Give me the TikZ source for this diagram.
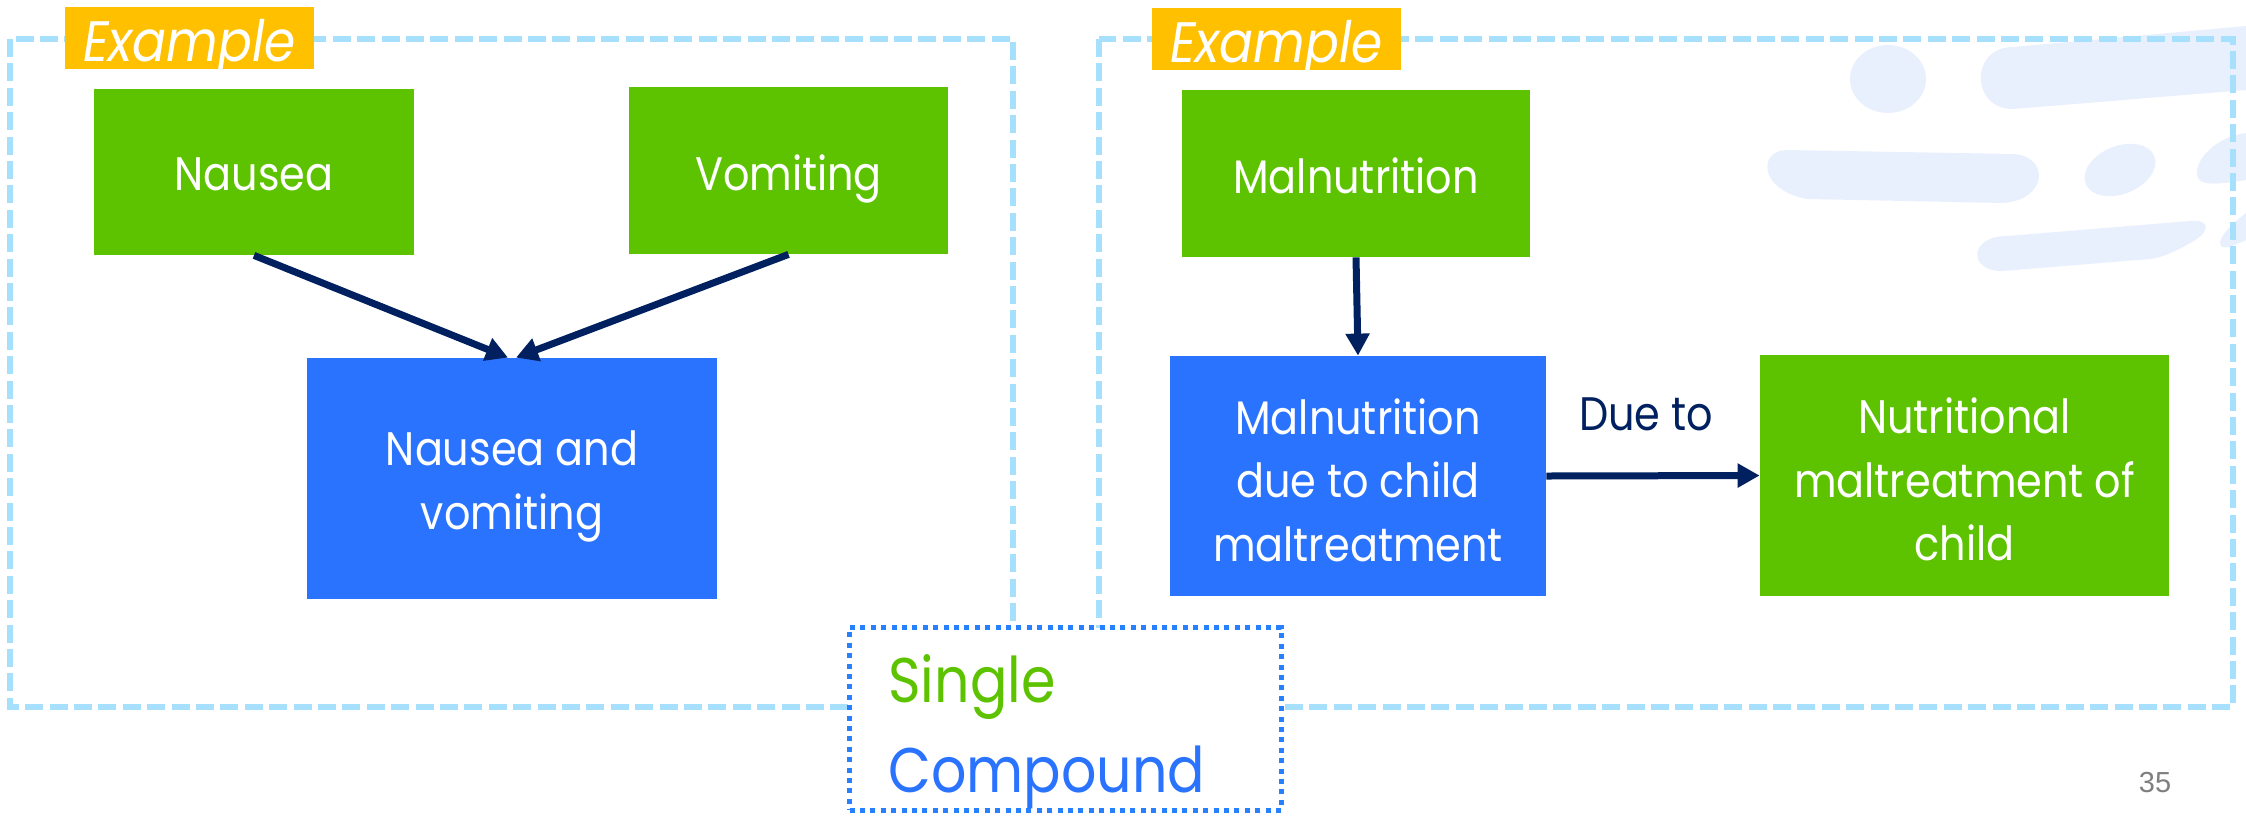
\documentclass[tikz,border=0pt]{standalone}
\usepackage{fontspec}
\setmainfont{Poppins}[FakeStretch=0.88]
\newfontfamily\numfont{Liberation Sans}
\usetikzlibrary{arrows.meta}

\definecolor{boxgreen}{HTML}{5DC300}
\definecolor{boxblue}{HTML}{2A73FF}
\definecolor{navy}{HTML}{002060}
\definecolor{frameblue}{HTML}{A6E0FD}
\definecolor{gold}{HTML}{FFC000}
\definecolor{dotblue}{HTML}{2680FF}
\definecolor{haze}{HTML}{E8EFFD}
\definecolor{pagegray}{HTML}{7F7F7F}

\tikzset{
  conceptbox/.style={rectangle, inner sep=0pt, text=white, align=center,
    text depth=0pt, font=\fontsize{23.5}{31.75}\selectfont},
  gbox/.style={conceptbox, fill=boxgreen},
  bbox/.style={conceptbox, fill=boxblue},
  link/.style={navy, line width=3.5pt, -{Triangle[width=11.5pt,length=11pt]}},
  frame/.style={frameblue, line width=3.3pt, dash pattern=on 9pt off 3.2pt},
  tag/.style={fill=gold, inner sep=0pt, text=white, minimum width=124.5pt,
    text height=27pt, text depth=4pt, font=\itshape\fontsize{28.5}{34}\selectfont},
  kindbox/.style={draw=dotblue, fill=white, line width=2.5pt,
    dash pattern=on 2.5pt off 2.7pt, inner sep=0pt},
  kindtext/.style={anchor=base west, inner sep=0pt, font=\fontsize{31.5}{38}\selectfont},
}

\begin{document}
\begin{tikzpicture}[x=0.5pt, y=-0.5pt]
\useasboundingbox (0,0) rectangle (2246,815);

% soft background strokes, top right
\begin{scope}[haze]
  \fill (1888,79) ellipse [x radius=38, y radius=34];
  \fill (2013,47) -- (2246,26) -- (2246,90) -- (2013,109)
        .. controls (1970,109) and (1970,47) .. (2013,47) -- cycle;
  \fill (1787,150) .. controls (1758,150) and (1758,190) .. (1807,199)
        -- (2003,203) .. controls (2048,200) and (2050,156) .. (2013,154) -- cycle;
  \fill[shift={(2120,170)}, rotate=22] (0,0) ellipse [x radius=37, y radius=24];
  \fill (2246,133) .. controls (2215,137) and (2195,160) .. (2197,175)
        .. controls (2199,186) and (2215,185) .. (2246,180) -- cycle;
  \fill (2007,236) -- (2190,221) .. controls (2212,219) and (2210,233) .. (2190,243)
        .. controls (2175,252) and (2160,258) .. (2150,259) -- (2003,271)
        .. controls (1968,272) and (1968,236) .. (2007,236) -- cycle;
  \fill (2246,213) .. controls (2230,225) and (2216,240) .. (2221,246)
        .. controls (2225,250) and (2235,245) .. (2246,240) -- cycle;
\end{scope}

% dashed frames of the two examples
\draw[frame] (10,39) rectangle (1013,707);
\draw[frame] (1099,39) rectangle (2233,707);

% example tags
\node[tag] (exL) at (189.5,38) {Example};
\node[tag] (exR) at (1276.5,39) {Example};

% left example
\node[gbox, minimum width=160pt, minimum height=83pt, text height=18pt] (nausea) at (254,172) {Nausea};
\node[gbox, minimum width=159.5pt, minimum height=83.5pt, text height=19.5pt] (vomit) at (788.5,170.5) {Vomiting};
\node[bbox, minimum width=205pt, minimum height=120.5pt, text height=50.5pt] (nv) at (512,478.5) {Nausea and\\vomiting};
\draw[link] (nausea.south) -- ([xshift=-2pt]nv.north);
\draw[link] (vomit.south) -- ([xshift=2pt]nv.north);

% right example
\node[gbox, minimum width=174pt, minimum height=83.5pt, text height=19.5pt] (maln) at (1356,173.5) {Malnutrition};
\node[bbox, minimum width=188pt, minimum height=120pt, text height=85.3pt] (mdue) at (1358,476) {Malnutrition\\due to child\\maltreatment};
\node[gbox, minimum width=204.5pt, minimum height=120.5pt, text height=85.3pt] (nmc) at (1964.5,475.5) {Nutritional\\maltreatment of\\child};
\draw[link] (maln.south) -- (mdue.north);
\draw[link] (mdue.east) -- (nmc.west);
\node[inner sep=0pt, text=navy, font=\fontsize{23.5}{28}\selectfont] (dueto) at (1646,414) {Due to};

% legend of the two kinds
\node[kindbox, minimum width=215.75pt, minimum height=91.25pt] (kinds) at (1065.25,718.75) {};
\node[kindtext, text=boxgreen] (single) at (888,702) {Single};
\node[kindtext, text=boxblue] (compound) at (888,792) {Compound};

% page number
\node[anchor=base, inner sep=0pt, text=pagegray, font=\numfont\fontsize{14.5}{17}\selectfont] (page) at (2155,792) {35};
\end{tikzpicture}
\end{document}
